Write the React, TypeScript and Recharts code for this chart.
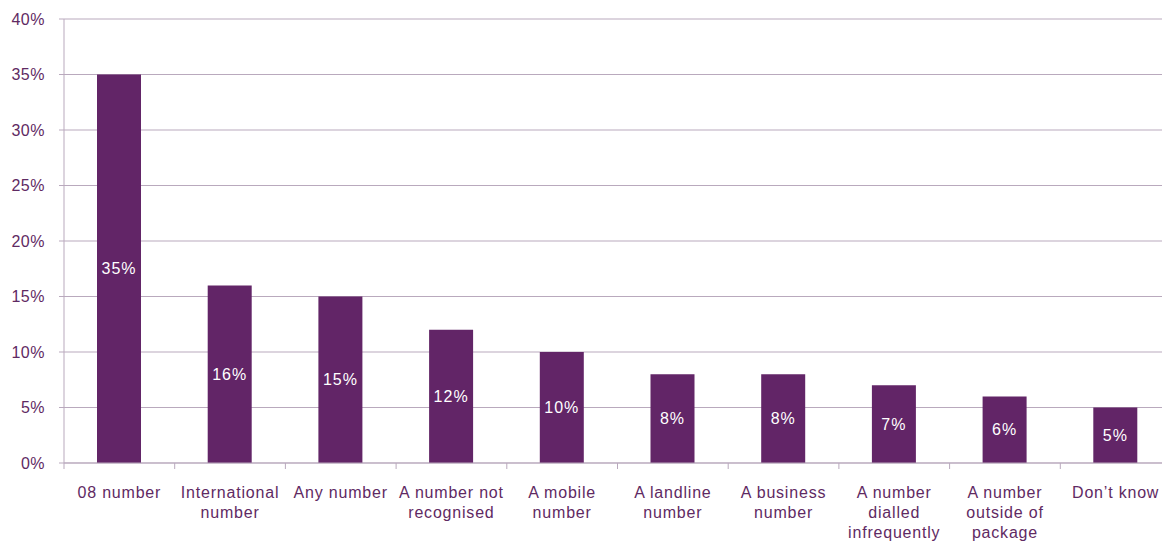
import { BarChart, Bar, XAxis, YAxis, CartesianGrid, LabelList } from 'recharts'

const categories = [
  '08 number',
  'International\nnumber',
  'Any number',
  'A number not\nrecognised',
  'A mobile\nnumber',
  'A landline\nnumber',
  'A business\nnumber',
  'A number\ndialled\ninfrequently',
  'A number\noutside of\npackage',
  'Don\u2019t know',
]
const shares = [35, 16, 15, 12, 10, 8, 8, 7, 6, 5]
const yTicks = [0, 5, 10, 15, 20, 25, 30, 35, 40]

const chartData = categories.map((name, i) => ({ name, value: shares[i] }))

const W = 1175
const H = 543
const LEFT = 64
const RIGHT = 4
const BAND = (W - LEFT - RIGHT) / categories.length
const TEXT = '#5f2a63'
const GRID = '#b9a9bd'
const BAR = '#622567'
const FONT = 'Liberation Sans, Arial, sans-serif'

function CategoryTick(props: any) {
  const { x, y, payload } = props
  const lines = String(payload.value).split('\n')
  return (
    <g>
      <line x1={x - BAND / 2} x2={x - BAND / 2} y1={y - 8} y2={y - 2} stroke={GRID} />
      {payload.index === categories.length - 1 && (
        <line x1={x + BAND / 2} x2={x + BAND / 2} y1={y - 8} y2={y - 2} stroke={GRID} />
      )}
      <text
        x={x}
        y={y + 27}
        textAnchor="middle"
        fill={TEXT}
        fontSize={16}
        fontFamily={FONT}
        letterSpacing={0.8}
      >
        {lines.map((l, i) => (
          <tspan key={i} x={x} dy={i === 0 ? 0 : 20}>
            {l}
          </tspan>
        ))}
      </text>
    </g>
  )
}

export default function App() {
  return (
    <div
      style={{
        position: 'absolute',
        left: 0,
        top: 0,
        width: 1162,
        height: H,
        overflow: 'hidden',
        background: '#fff',
      }}
    >
      <BarChart
        width={W}
        height={H}
        data={chartData}
        margin={{ top: 19, right: RIGHT, left: 0, bottom: 0 }}
        barCategoryGap={0}
      >
        <CartesianGrid vertical={false} stroke={GRID} strokeWidth={1} />
        <XAxis
          dataKey="name"
          interval={0}
          height={80}
          axisLine={{ stroke: GRID }}
          tickLine={false}
          tick={<CategoryTick />}
        />
        <YAxis
          width={LEFT}
          domain={[0, 40]}
          ticks={yTicks}
          tickFormatter={(v: number) => `${v}%`}
          axisLine={{ stroke: GRID }}
          tickLine={{ stroke: GRID }}
          tickSize={5}
          tickMargin={14}
          tick={{ fill: TEXT, fontSize: 16, fontFamily: FONT, letterSpacing: 0.5 }}
        />
        <Bar dataKey="value" fill={BAR} barSize={44} isAnimationActive={false}>
          <LabelList
            dataKey="value"
            position="center"
            formatter={(v: any) => `${v}%`}
            fill="#ffffff"
            fontSize={16}
            fontFamily={FONT}
            letterSpacing={1}
          />
        </Bar>
      </BarChart>
    </div>
  )
}
